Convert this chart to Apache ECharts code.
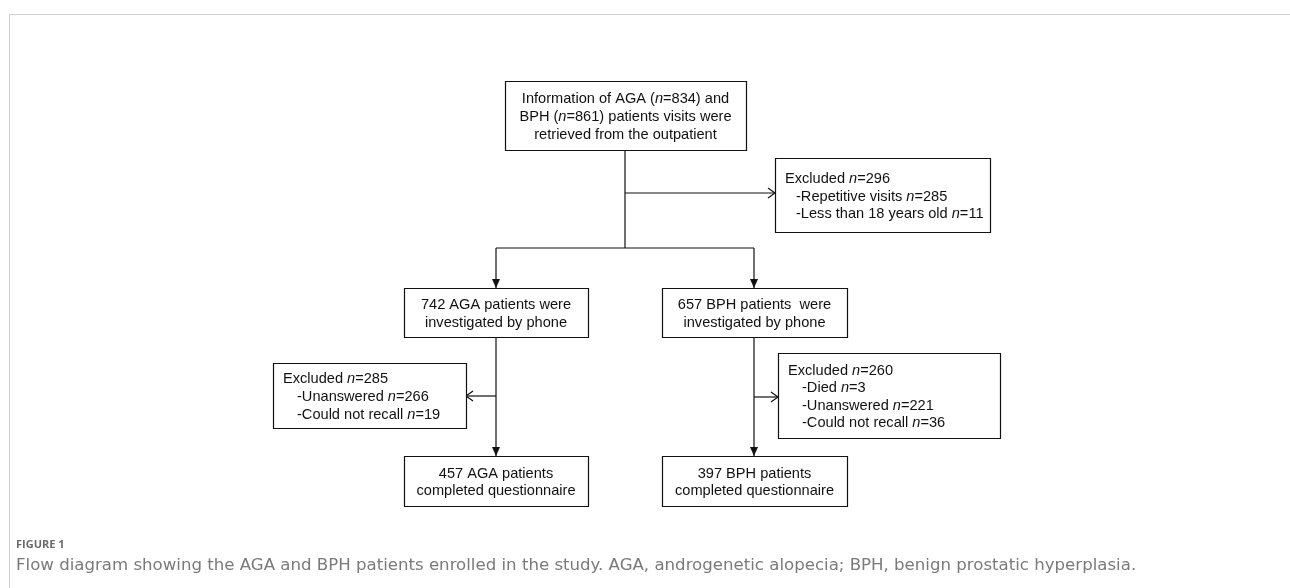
<!DOCTYPE html>
<html>
<head>
<meta charset="utf-8">
<script src="https://cdn.jsdelivr.net/npm/echarts@6/dist/echarts.min.js"></script>
<style>
html,body{margin:0;padding:0;background:#fff;}
#chart{width:1290px;height:588px;}
</style>
</head>
<body>
<div id="chart"></div>
<script>
// ---- content (text of each box) ----
const boxTitles = [
  ['Information of AGA ({i|n}=834) and', 'BPH ({i|n}=861) patients visits were', 'retrieved from the outpatient'],
  ['Excluded {i|n}=296', '-Repetitive visits {i|n}=285', '-Less than 18 years old {i|n}=11'],
  ['742 AGA patients were', 'investigated by phone'],
  ['657 BPH patients  were', 'investigated by phone'],
  ['Excluded {i|n}=285', '-Unanswered {i|n}=266', '-Could not recall {i|n}=19'],
  ['Excluded {i|n}=260', '-Died {i|n}=3', '-Unanswered {i|n}=221', '-Could not recall {i|n}=36'],
  ['457 AGA patients', 'completed questionnaire'],
  ['397 BPH patients', 'completed questionnaire']
];
const boxAlign = ['center', 'left', 'center', 'center', 'left', 'left', 'center', 'center'];
const captionLabel = 'FIGURE 1';
const captionText = 'Flow diagram showing the AGA and BPH patients enrolled in the study. AGA, androgenetic alopecia; BPH, benign prostatic hyperplasia.';

// ---- layout (diagram coordinates) ----
const boxRects = [
  [505, 81, 746, 150],
  [775, 158, 990, 232],
  [404, 288, 588, 337],
  [662, 288, 847, 337],
  [273, 363, 466, 428],
  [778, 353, 1000, 438],
  [404, 456, 588, 506],
  [662, 456, 847, 506]
];
const boxIndent = [0, 11, 0, 0, 14, 14, 0, 0];
// connectors: [points, arrowType]  arrowType: 'fill' | 'open' | null
const connectors = [
  [[[625, 150], [625, 248]], null],
  [[[625, 193], [775, 193]], 'open'],
  [[[496, 248], [754, 248]], null],
  [[[496, 248], [496, 288]], 'fill'],
  [[[754, 248], [754, 288]], 'fill'],
  [[[496, 337], [496, 456]], 'fill'],
  [[[496, 396], [466, 396]], 'open'],
  [[[754, 337], [754, 456]], 'fill'],
  [[[754, 397], [778, 397]], 'open']
];

const FONT = '"Liberation Sans", Arial, sans-serif';
const FS = 14.6;
const chart = echarts.init(document.getElementById('chart'), null, {renderer: 'canvas'});

function boxRender(params, api) {
  const i = params.dataIndex;
  const r = boxRects[i];
  const p0 = api.coord([r[0], r[1]]);
  const p1 = api.coord([r[2], r[3]]);
  const lines = boxTitles[i];
  const lh = 17.6;
  const cy = (p0[1] + p1[1]) / 2 + 1.5;
  const children = [{
    type: 'rect',
    shape: {x: Math.round(p0[0]) + 0.5, y: Math.round(p0[1]) + 0.5, width: Math.round(p1[0] - p0[0]), height: Math.round(p1[1] - p0[1])},
    style: {fill: '#fff', stroke: '#111', lineWidth: 1.2}
  }];
  lines.forEach(function (ln, k) {
    const y = cy + (k - (lines.length - 1) / 2) * lh;
    let x, align;
    if (boxAlign[i] === 'center') { x = (p0[0] + p1[0]) / 2; align = 'center'; }
    else { x = p0[0] + 10 + (ln.charAt(0) === '-' ? boxIndent[i] : 0); align = 'left'; }
    children.push({
      type: 'text',
      style: {
        text: ln, x: x, y: y, align: align, verticalAlign: 'middle',
        fontFamily: FONT, fontSize: FS, fill: '#111',
        rich: {i: {fontFamily: FONT, fontSize: FS, fontStyle: 'italic', fill: '#111'}}
      }
    });
  });
  return {type: 'group', children: children};
}

function connRender(params, api) {
  const c = connectors[params.dataIndex];
  const pts = c[0].map(function (p) { return api.coord(p); });
  const children = [{
    type: 'polyline',
    shape: {points: pts},
    style: {stroke: '#111', lineWidth: 1.2, fill: null}
  }];
  const a = pts[pts.length - 2], b = pts[pts.length - 1];
  const dx = b[0] - a[0], dy = b[1] - a[1];
  const len = Math.sqrt(dx * dx + dy * dy);
  const ux = dx / len, uy = dy / len, nx = -uy, ny = ux;
  if (c[1] === 'fill') {
    const L = 9, W = 4;
    children.push({
      type: 'polygon',
      shape: {points: [[b[0], b[1]], [b[0] - ux * L + nx * W, b[1] - uy * L + ny * W], [b[0] - ux * L - nx * W, b[1] - uy * L - ny * W]]},
      style: {fill: '#111'}
    });
  } else if (c[1] === 'open') {
    const L = 7, W = 5;
    children.push({
      type: 'polyline',
      shape: {points: [[b[0] - ux * L + nx * W, b[1] - uy * L + ny * W], [b[0], b[1]], [b[0] - ux * L - nx * W, b[1] - uy * L - ny * W]]},
      style: {stroke: '#111', lineWidth: 1.2, fill: null}
    });
  }
  return {type: 'group', children: children};
}

const option = {
  animation: false,
  backgroundColor: '#fff',
  grid: {left: 0, right: 0, top: 0, bottom: 0},
  xAxis: {type: 'value', min: 0, max: 1290, show: false},
  yAxis: {type: 'value', min: 0, max: 588, inverse: true, show: false},
  graphic: [
    {type: 'line', shape: {x1: 9.5, y1: 14.5, x2: 1290, y2: 14.5}, style: {stroke: '#cfcfcf', lineWidth: 1}},
    {type: 'line', shape: {x1: 9.5, y1: 14.5, x2: 9.5, y2: 588}, style: {stroke: '#cfcfcf', lineWidth: 1}},
    {type: 'text', left: 16, top: 539, style: {text: captionLabel, fontFamily: '"Open Sans", sans-serif', fontSize: 11, fontWeight: 'bold', fill: '#6a6a6a'}},
    {type: 'text', left: 16, top: 557, style: {text: captionText, fontFamily: '"DejaVu Sans", sans-serif', fontSize: 16.6, fill: '#7a7a7a'}}
  ],
  series: [
    {type: 'custom', renderItem: connRender, data: connectors.map(function (c, i) { return [i, 0]; }), silent: true, z: 1},
    {type: 'custom', renderItem: boxRender, data: boxTitles.map(function (b, i) { return [i, 0]; }), silent: true, z: 2}
  ]
};
chart.setOption(option);
</script>
</body>
</html>
